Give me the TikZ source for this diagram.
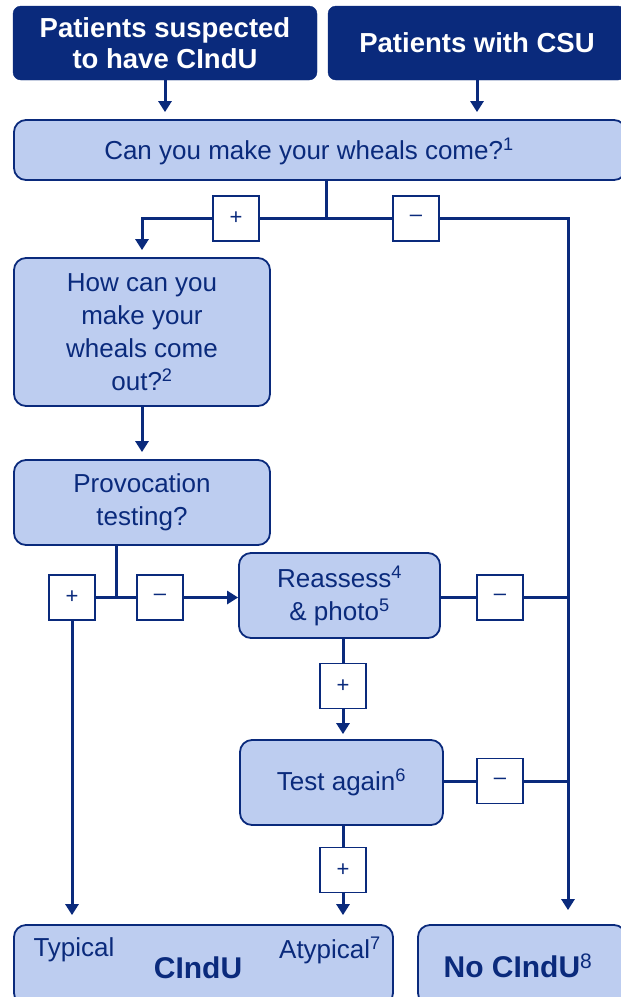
\documentclass[tikz,border=0pt]{standalone}
\usepackage{fontspec}
\setmainfont{Liberation Sans}
\usetikzlibrary{arrows.meta}
\definecolor{navy}{HTML}{0A2A7C}
\definecolor{lightblue}{HTML}{BDCDF0}
\begin{document}
\begin{tikzpicture}[x=1pt,y=-1pt,
  darkbox/.style={draw=navy,fill=navy,rounded corners=8pt,text=white,align=center,
    font=\fontsize{27.5}{31}\selectfont\bfseries,inner sep=0pt},
  lightbox/.style={draw=navy,line width=1.8pt,fill=lightblue,rounded corners=12pt,text=navy,align=center,
    font=\fontsize{26}{33}\selectfont,inner sep=0pt},
  signbox/.style={draw=navy,line width=1.2pt,fill=white,text=navy,minimum width=46pt,minimum height=45pt,
    inner sep=0pt,font=\fontsize{22}{24}\selectfont},
  conn/.style={draw=navy,line width=3pt},
  arr/.style={conn,-{Triangle[width=13pt,length=11pt]}},
  txt/.style={text=navy,inner sep=0pt,font=\fontsize{26}{30}\selectfont}
]
\useasboundingbox (0,0) rectangle (621,997);

% top boxes
\node[darkbox,minimum width=304pt,minimum height=74pt] (tl) at (165,43) {Patients suspected\\to have CIndU};
\node[darkbox,minimum width=298pt,minimum height=74pt] (tr) at (477,43) {Patients with CSU};

% question box
\node[lightbox,minimum width=612pt,minimum height=60pt] (cy) at (320,150) {};
\node[txt] (cyt) at (309,151) {Can you make your wheals come?\textsuperscript{1}};

\node[lightbox,minimum width=256pt,minimum height=148pt] (hc) at (142,332) {How can you\\make your\\wheals come\\out?\textsuperscript{2}};
\node[lightbox,minimum width=256pt,minimum height=85pt] (pv) at (142,502.5) {Provocation\\testing?};
\node[lightbox,minimum width=201pt,minimum height=85pt] (ra) at (339.5,595.5) {Reassess\textsuperscript{4}\\\& photo\textsuperscript{5}};
\node[lightbox,minimum width=203pt,minimum height=85pt] (tg) at (341.5,782.5) {Test again\textsuperscript{6}};

% outcome boxes
\node[lightbox,minimum width=379pt,minimum height=80pt] (ci) at (203.5,965) {};
\node[txt] (typ) at (74,950) {Typical};
\node[txt,font=\fontsize{30}{34}\selectfont\bfseries] (cit) at (198,968) {CIndU};
\node[txt] (atyp) at (330,950) {Atypical\textsuperscript{7}};
\node[lightbox,minimum width=208pt,minimum height=80pt] (no) at (522,965) {};
\node[txt,font=\fontsize{30}{34}\selectfont\bfseries] (not) at (518,966) {No CIndU\textsuperscript{\normalfont 8}};

% sign boxes
\node[signbox] (p1) at (236,218.5) {+};
\node[signbox] (m1) at (416,218.5) {\raisebox{-2pt}{–}};
\node[signbox] (p2) at (72,597.5) {+};
\node[signbox] (m2) at (160,597.5) {\raisebox{-2pt}{–}};
\node[signbox] (m3) at (500,597.5) {\raisebox{-2pt}{–}};
\node[signbox] (p3) at (343,686) {+};
\node[signbox] (m4) at (500,781) {\raisebox{-2pt}{–}};
\node[signbox] (p4) at (343,870) {+};

% junction coordinates
\coordinate (j1) at (326,218.5);
\coordinate (j2) at (116,597.5);
\coordinate (rx) at (568,218.5);

% connectors
\draw[arr,shorten >=7pt] (tl.south) -- (tl.south |- cy.north);
\draw[arr,shorten >=7pt] (tr.south) -- (tr.south |- cy.north);

\draw[conn] (cy.south -| j1) -- (j1);
\draw[conn] (j1) -- (p1.east);
\draw[arr,shorten >=7pt] (p1.west) -- (hc.north |- p1) -- (hc.north);
\draw[conn] (j1) -- (m1.west);
\draw[arr,shorten >=14pt] (m1.east) -- (rx) -- (rx |- no.north);

\draw[arr,shorten >=7pt] (hc.south) -- (pv.north);

\draw[conn] (pv.south -| j2) -- (j2);
\draw[conn] (j2) -- (p2.east);
\draw[conn] (j2) -- (m2.west);
\draw[arr] (m2.east) -- (ra.west |- m2);
\draw[arr,shorten >=9pt] (p2.south) -- (p2.south |- ci.north);

\draw[conn] (ra.east |- m3) -- (m3.west);
\draw[conn] (m3.east) -- (rx |- m3);
\draw[conn] (p3.north |- ra.south) -- (p3.north);
\draw[arr,shorten >=5pt] (p3.south) -- (p3.south |- tg.north);

\draw[conn] (tg.east |- m4) -- (m4.west);
\draw[conn] (m4.east) -- (rx |- m4);
\draw[conn] (p4.north |- tg.south) -- (p4.north);
\draw[arr,shorten >=9pt] (p4.south) -- (p4.south |- ci.north);
\end{tikzpicture}
\end{document}
